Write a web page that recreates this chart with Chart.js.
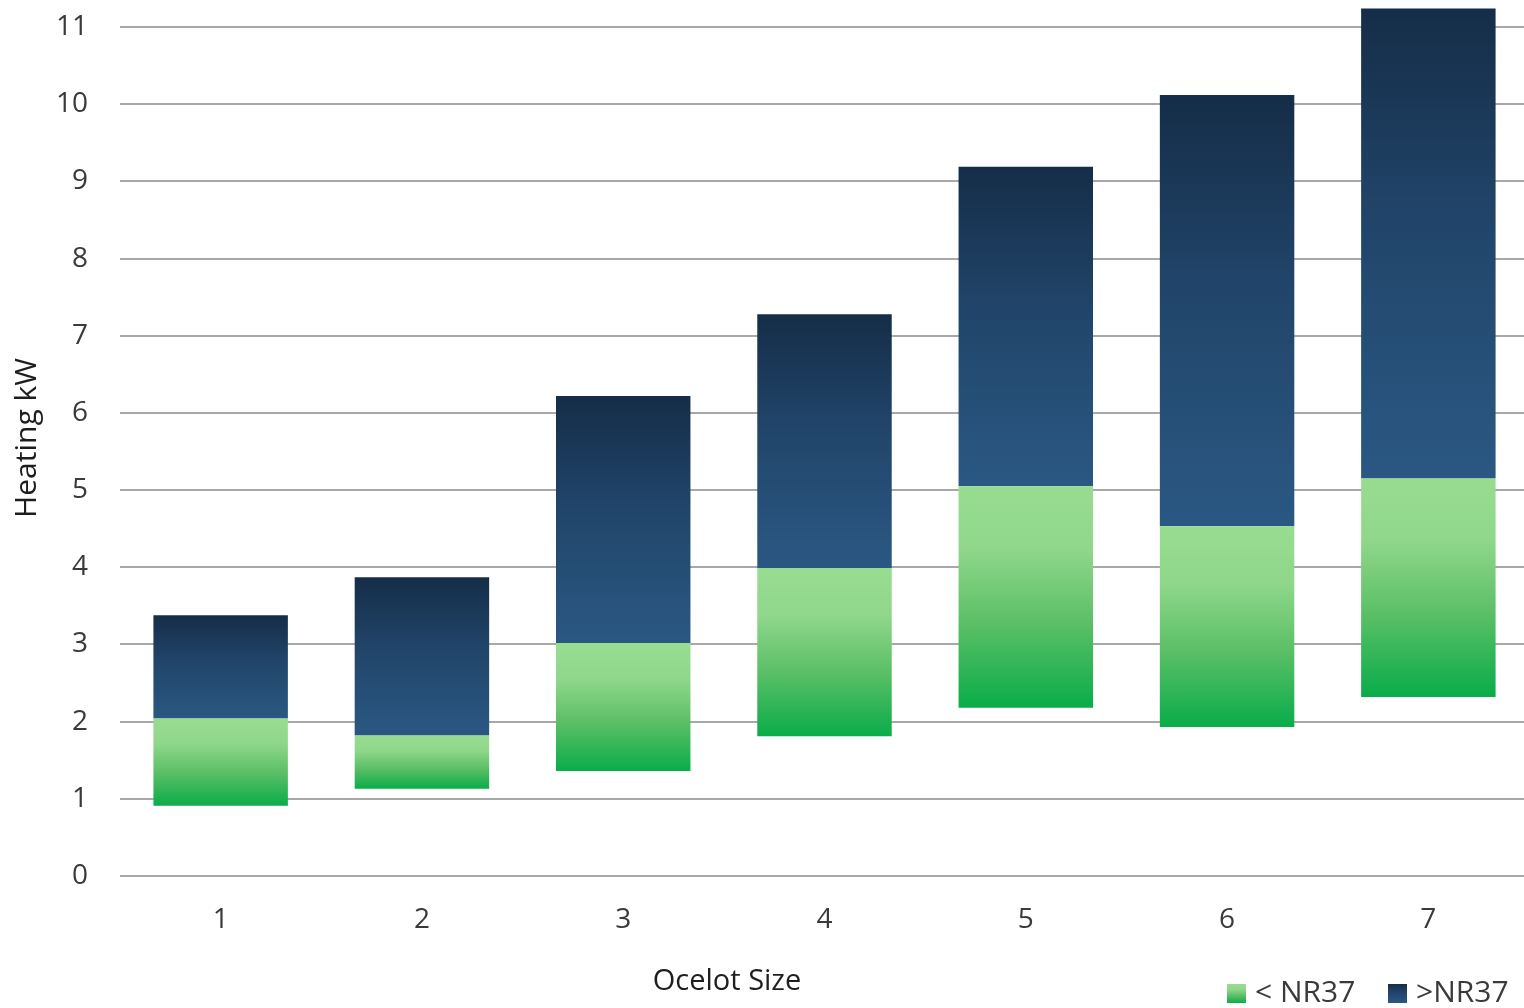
<!DOCTYPE html>
<html>
<head>
<meta charset="utf-8">
<title>Ocelot heating output</title>
<script src="https://cdn.jsdelivr.net/npm/chart.js@4.4.1/dist/chart.umd.min.js"></script>
<style>
  html, body { margin: 0; padding: 0; background: #ffffff; overflow: hidden; }
  #wrap { width: 1524px; height: 1008px; position: relative; overflow: hidden; }
  /* the plot area runs a few pixels past the visible right edge */
  #inner { width: 1529px; height: 1008px; position: absolute; left: 0; top: 0; }
</style>
</head>
<body>
<div id="wrap"><div id="inner"><canvas id="chart"></canvas></div></div>
<script>
// Unit sizes and heating ranges (kW)
const sizes = ['1', '2', '3', '4', '5', '6', '7'];
const lowKW = [0.91, 1.13, 1.36, 1.81, 2.18, 1.93, 2.32];
const midKW = [2.04, 1.82, 3.02, 3.99, 5.05, 4.53, 5.15];
const highKW = [3.38, 3.87, 6.22, 7.28, 9.19, 10.12, 11.24];
const yTicks = [0, 1, 2, 3, 4, 5, 6, 7, 8, 9, 10, 11];
const seriesNames = ['< NR37', '>NR37'];
const axisTitles = { x: 'Ocelot Size', y: 'Heating kW' };

const FONT = "'Open Sans', 'Noto Sans', sans-serif";
const greenStops = [[0, '#98dc90'], [0.28, '#90d78b'], [0.62, '#5bbf66'], [1, '#0aac4a']];
const blueStops = [[0, '#152d48'], [0.45, '#21456a'], [0.85, '#28537c'], [1, '#2a5883']];

// Each segment gets its own vertical gradient, light at the top for green, dark at the top for blue
function segmentFill(stops, fallback) {
  return (ctx) => {
    const chart = ctx.chart;
    if (!chart.chartArea || ctx.type !== 'data' || !Array.isArray(ctx.raw)) return fallback;
    const y = chart.scales.y;
    const a = y.getPixelForValue(Math.max(ctx.raw[0], ctx.raw[1]));
    const b = y.getPixelForValue(Math.min(ctx.raw[0], ctx.raw[1]));
    const g = chart.ctx.createLinearGradient(0, a, 0, b === a ? a + 1 : b);
    stops.forEach(([o, c]) => g.addColorStop(o, c));
    return g;
  };
}

const lowerRange = sizes.map((_, i) => [lowKW[i], midKW[i]]);
const upperRange = sizes.map((_, i) => [midKW[i], highKW[i]]);

// X-axis title and legend along the bottom edge
const footer = {
  id: 'footer',
  afterDraw(chart) {
    const c = chart.ctx;
    c.save();
    c.textBaseline = 'middle';
    c.font = `29px ${FONT}`;
    c.fillStyle = '#1e1e1e';
    c.textAlign = 'center';
    c.fillText(axisTitles.x, 727, 982);

    const items = [
      { x: 1227, stops: greenStops, text: seriesNames[0] },
      { x: 1388, stops: blueStops, text: seriesNames[1] }
    ];
    c.font = `30px ${FONT}`;
    c.textAlign = 'left';
    items.forEach(it => {
      const g = c.createLinearGradient(0, 984, 0, 1003);
      it.stops.forEach(([o, col]) => g.addColorStop(o, col));
      c.fillStyle = g;
      c.fillRect(it.x, 984, 19, 19);
      c.fillStyle = '#3a3a3a';
      c.fillText(it.text, it.x + 28, 993);
    });
    c.restore();
  }
};

new Chart(document.getElementById('chart'), {
  type: 'bar',
  data: {
    labels: sizes,
    datasets: [
      {
        label: seriesNames[0],
        data: lowerRange,
        backgroundColor: segmentFill(greenStops, '#55be63'),
        borderWidth: 0,
        barPercentage: 0.668,
        categoryPercentage: 1
      },
      {
        label: seriesNames[1],
        data: upperRange,
        backgroundColor: segmentFill(blueStops, '#23486d'),
        borderWidth: 0,
        barPercentage: 0.668,
        categoryPercentage: 1
      }
    ]
  },
  options: {
    responsive: true,
    maintainAspectRatio: false,
    animation: false,
    layout: { padding: 0 },
    plugins: {
      legend: { display: false },
      tooltip: { enabled: false }
    },
    scales: {
      x: {
        stacked: true,
        grid: { display: false, drawTicks: false },
        border: { display: false },
        ticks: { color: '#3a3a3a', font: { family: FONT, size: 28 }, padding: 27 },
        afterFit(scale) {
          scale.height = 132;
          scale.paddingLeft = 0;
          scale.paddingRight = 0;
        }
      },
      y: {
        stacked: false,
        min: 0,
        max: 11.35,
        grid: { color: '#a8a8a8', lineWidth: 2, drawTicks: false },
        border: { display: false },
        ticks: { color: '#3a3a3a', font: { family: FONT, size: 28 }, padding: 32 },
        title: {
          display: true,
          text: axisTitles.y,
          color: '#1e1e1e',
          font: { family: FONT, size: 30 },
          padding: { top: 9, bottom: 0 }
        },
        afterBuildTicks(scale) { scale.ticks = yTicks.map(v => ({ value: v })); },
        afterFit(scale) {
          scale.width = 120;
          scale.paddingTop = 0;
          scale.paddingBottom = 0;
        }
      }
    }
  },
  plugins: [footer]
});
</script>
</body>
</html>
